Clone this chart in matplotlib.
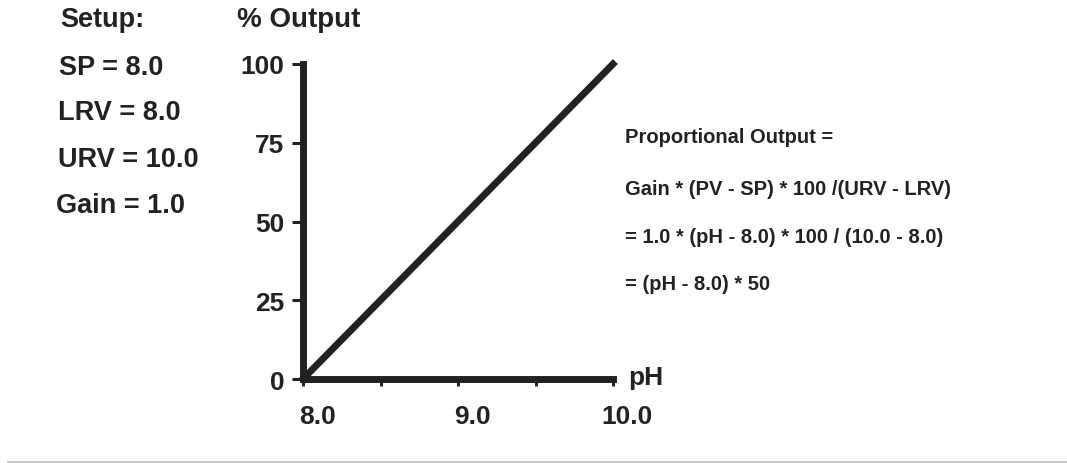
import numpy as np
import matplotlib
matplotlib.use('Agg')
import matplotlib.pyplot as plt
import matplotlib.transforms as mtransforms
from matplotlib.lines import Line2D

# data
ph = [8.0, 10.0]
output = [0, 100]
x_major = [8.0, 9.0, 10.0]
x_major_labels = ['8.0', '9.0', '10.0']
x_minor = [8.5, 9.5]
y_ticks = [0, 25, 50, 75, 100]
y_labels = ['0', '25', '50', '75', '100']

setup_lines = ['Setup:', 'SP = 8.0', 'LRV = 8.0', 'URV = 10.0', 'Gain = 1.0']
formula_lines = ['Proportional Output =',
                 'Gain * (PV - SP) * 100 /(URV - LRV)',
                 '= 1.0 * (pH - 8.0) * 100 / (10.0 - 8.0)',
                 '= (pH - 8.0) * 50']

W, H = 1067, 464
ink = '#222222'
plt.rcParams['font.family'] = ['Liberation Sans', 'DejaVu Sans']
plt.rcParams['font.weight'] = 'bold'

def px(x, y):
    return x / W, 1 - y / H

fig = plt.figure(figsize=(W / 100, H / 100), dpi=100)
fig.patch.set_facecolor('white')
l, b = px(303, 380)
r, t = px(613, 65)
ax = fig.add_axes([l, b, r - l, t - b])

ax.plot(ph, output, color=ink, lw=5, solid_capstyle='projecting', clip_on=False)
ax.set_xlim(8, 10)
ax.set_ylim(0, 100)

for s in ['top', 'right']:
    ax.spines[s].set_visible(False)
for s in ['left', 'bottom']:
    ax.spines[s].set_linewidth(5)
    ax.spines[s].set_color(ink)
    ax.spines[s].set_capstyle('projecting')

ax.set_xticks(x_major)
ax.set_xticklabels(x_major_labels)
ax.set_xticks(x_minor, minor=True)
ax.set_yticks(y_ticks)
ax.set_yticklabels(y_labels)
ax.tick_params(axis='x', which='both', length=5, width=2.2, color=ink,
               pad=13, labelsize=19, labelcolor=ink)
ax.tick_params(axis='y', length=8, width=2.2, color=ink, pad=5.5,
               labelsize=19, labelcolor=ink)
# tick labels in the reference sit a bit right of their ticks
off = mtransforms.ScaledTranslation(0.14, 0, fig.dpi_scale_trans)
for lab in ax.get_xticklabels():
    lab.set_transform(lab.get_transform() + off)
for lab in ax.get_xticklabels() + ax.get_yticklabels():
    lab.set_fontweight('bold')

# axis titles
fig.text(*px(237, 27), '% Output', fontsize=20, color=ink, ha='left', va='baseline')
fig.text(*px(628, 378), 'pH', fontsize=19, color=ink, ha='left', va='center')

# setup block
setup_x = [60, 59, 58, 58, 56]
setup_y = [27, 75, 120, 167, 213]
for s, x, y in zip(setup_lines, setup_x, setup_y):
    fig.text(*px(x, y), s, fontsize=19.5, color=ink, ha='left', va='baseline')

# formula block
formula_y = [143, 195, 243, 290]
for s, y in zip(formula_lines, formula_y):
    fig.text(*px(625, y), s, fontsize=14.5, color=ink, ha='left', va='baseline')

# thin gray rule at the bottom
fig.add_artist(Line2D([8 / W, 1.0], [1 - 463 / H, 1 - 463 / H],
                      transform=fig.transFigure, color='#c8c8c8', lw=1.5))

fig.savefig('out.png', dpi=100)
